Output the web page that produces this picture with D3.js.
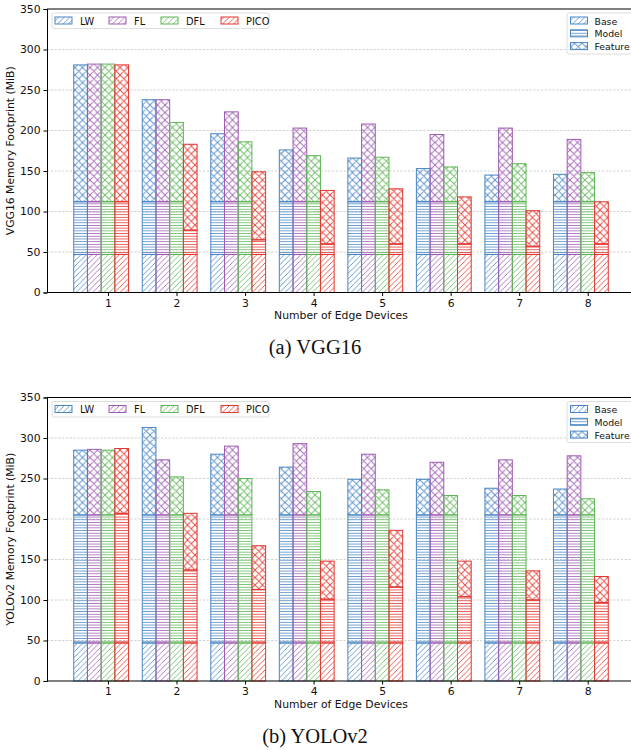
<!DOCTYPE html>
<html><head><meta charset="utf-8">
<script src="https://cdn.jsdelivr.net/npm/d3@7"></script>
<style>body{margin:0;background:#fff}svg{display:block}</style>
</head><body>
<script>
// ---- data ----
const devices = [1,2,3,4,5,6,7,8];
const methods = ["LW","FL","DFL","PICO"];
const components = ["Base","Model","Feature"];
const yTicks = [0,50,100,150,200,250,300,350];

// VGG16 (MiB)
const vggBase    = {LW:[47,47,47,47,47,47,47,47], FL:[47,47,47,47,47,47,47,47], DFL:[47,47,47,47,47,47,47,47], PICO:[47,47,47,47,47,47,47,47]};
const vggModel   = {LW:[65,65,65,65,65,65,65,65], FL:[65,65,65,65,65,65,65,65], DFL:[65,65,65,65,65,65,65,65], PICO:[65,30,18,13,13,13,10,13]};
const vggFeature = {LW:[169,126,84,64,54,41,33,34], FL:[170,126,111,91,96,83,91,77], DFL:[170,98,74,57,55,43,47,36], PICO:[169,106,84,66,68,58,44,52]};

// YOLOv2 (MiB)
const yoloBase    = {LW:[47,47,47,47,47,47,47,47], FL:[47,47,47,47,47,47,47,47], DFL:[47,47,47,47,47,47,47,47], PICO:[47,47,47,47,47,47,47,47]};
const yoloModel   = {LW:[158,158,158,158,158,158,158,158], FL:[158,158,158,158,158,158,158,158], DFL:[158,158,158,158,158,158,158,158], PICO:[160,90,66,54,69,57,53,50]};
const yoloFeature = {LW:[80,108,75,59,44,44,33,32], FL:[81,68,85,88,75,65,68,73], DFL:[80,47,45,29,31,24,24,20], PICO:[80,70,54,47,70,44,36,32]};

const colors = {LW:"#4a86c4", FL:"#9d5cb0", DFL:"#5fb557", PICO:"#e4352f"};
const hatchOf = {Base:"diag", Model:"horiz", Feature:"cross"};

// ---- svg ----
const W=631, H=750;
const svg = d3.select("body").append("svg").attr("width",W).attr("height",H);
const defs = svg.append("defs");

function makePatterns(){
  Object.entries(colors).forEach(([m,c])=>{
    let p = defs.append("pattern").attr("id",`diag-${m}`).attr("patternUnits","userSpaceOnUse")
      .attr("width",5.5).attr("height",5.5);
    p.append("path").attr("d","M0,5.5 L5.5,0 M-1,1 L1,-1 M4.5,6.5 L6.5,4.5")
      .attr("stroke",c).attr("stroke-width",0.9).attr("stroke-opacity",0.9);
    p = defs.append("pattern").attr("id",`horiz-${m}`).attr("patternUnits","userSpaceOnUse")
      .attr("width",6).attr("height",2.7);
    p.append("path").attr("d","M0,1.35 L6,1.35").attr("stroke",c).attr("stroke-width",0.9).attr("stroke-opacity",0.9);
    p = defs.append("pattern").attr("id",`cross-${m}`).attr("patternUnits","userSpaceOnUse")
      .attr("width",7.5).attr("height",7.5);
    p.append("path").attr("d","M0,0 L7.5,7.5 M7.5,0 L0,7.5 M-1,1 L1,-1 M6.5,8.5 L8.5,6.5 M-1,6.5 L1,8.5 M6.5,-1 L8.5,1")
      .attr("stroke",c).attr("stroke-width",0.95).attr("stroke-opacity",0.9);
  });
}
makePatterns();

function drawChart(opts){
  const {top, bottom, base, model, feature, ylabel, caption, capY, xlabY} = opts;
  const left=47, rightEdge=635;
  const x = d3.scaleLinear().domain([0.11,8.69]).range([left,rightEdge]);
  const y = d3.scaleLinear().domain([0,350]).range([bottom,top]);
  const bw = x(0.2)-x(0);
  const offs = {LW:-2, FL:-1, DFL:0, PICO:1};
  const g = svg.append("g");

  g.selectAll(".grid").data(yTicks.slice(1,-1)).enter().append("line")
    .attr("x1",left).attr("x2",W).attr("y1",d=>y(d)).attr("y2",d=>y(d))
    .attr("stroke","#c4c4c4").attr("stroke-width",0.8).attr("stroke-dasharray","2.2,1.6");

  const segs=[];
  methods.forEach(m=>{
    devices.forEach((d,i)=>{
      let y0=0;
      [["Base",base[m][i]],["Model",model[m][i]],["Feature",feature[m][i]]].forEach(([comp,v])=>{
        segs.push({m, d, comp, y0, y1:y0+v});
        y0+=v;
      });
    });
  });
  g.selectAll(".seg").data(segs).enter().append("rect")
    .attr("x",s=>x(s.d+offs[s.m]*0.2)-bw/2)
    .attr("width",bw)
    .attr("y",s=>y(s.y1))
    .attr("height",s=>y(s.y0)-y(s.y1))
    .attr("fill",s=>`url(#${hatchOf[s.comp]}-${s.m})`)
    .attr("stroke",s=>colors[s.m]).attr("stroke-width",1);

  const yAxis = d3.axisLeft(y).tickValues(yTicks).tickSize(3.5).tickPadding(3);
  const ya = g.append("g").attr("transform",`translate(${left},0)`).call(yAxis);
  const xAxis = d3.axisBottom(x).tickValues(devices).tickSize(3.5).tickPadding(3);
  const xa = g.append("g").attr("transform",`translate(0,${bottom})`).call(xAxis);
  [ya,xa].forEach(a=>{
    a.select(".domain").attr("stroke","#000").attr("stroke-width",1);
    a.selectAll("text").attr("font-family","DejaVu Sans").attr("font-size",10.8).attr("fill","#111");
    a.selectAll(".tick line").attr("stroke","#000");
  });
  xa.select(".domain").attr("d",`M${left},0H${W}`);
  g.append("line").attr("x1",left).attr("x2",W).attr("y1",top).attr("y2",top).attr("stroke","#000").attr("stroke-width",1);

  g.append("text").attr("x",(left+rightEdge)/2).attr("y",xlabY).attr("text-anchor","middle")
    .attr("font-family","DejaVu Sans").attr("font-size",10.8).attr("fill","#111").text("Number of Edge Devices");
  g.append("text").attr("transform",`translate(14,${(top+bottom)/2}) rotate(-90)`).attr("text-anchor","middle")
    .attr("font-family","DejaVu Sans").attr("font-size",10.8).attr("fill","#111").text(ylabel);
  g.append("text").attr("x",315).attr("y",capY).attr("text-anchor","middle")
    .attr("font-family","Liberation Serif").attr("font-size",20.5).attr("fill","#111").text(caption);

  const lg = g.append("g").attr("transform",`translate(52,${top+4})`);
  lg.append("rect").attr("width",217).attr("height",15.5).attr("rx",2)
    .attr("fill","#fff").attr("fill-opacity",0.85).attr("stroke","#d4d4d4").attr("stroke-width",0.8);
  const lx = [3,57,109,169];
  methods.forEach((m,i)=>{
    lg.append("rect").attr("x",lx[i]).attr("y",4).attr("width",17).attr("height",7)
      .attr("fill",`url(#diag-${m})`).attr("stroke",colors[m]).attr("stroke-width",1);
    lg.append("text").attr("x",lx[i]+25).attr("y",11.5).attr("font-family","DejaVu Sans")
      .attr("font-size",9.8).attr("fill","#111").text(m);
  });

  const cg = g.append("g").attr("transform",`translate(567,${top+4})`);
  cg.append("rect").attr("width",70).attr("height",41).attr("rx",2)
    .attr("fill","#fff").attr("fill-opacity",0.85).attr("stroke","#d4d4d4").attr("stroke-width",0.8);
  components.forEach((c,i)=>{
    cg.append("rect").attr("x",3.5).attr("y",4+i*12.8).attr("width",17).attr("height",7)
      .attr("fill",`url(#${hatchOf[c]}-LW)`).attr("stroke",colors.LW).attr("stroke-width",1);
    cg.append("text").attr("x",27.5).attr("y",11.5+i*12.8).attr("font-family","DejaVu Sans")
      .attr("font-size",9.3).attr("fill","#111").text(c);
  });
}

drawChart({top:9, bottom:292.5, base:vggBase, model:vggModel, feature:vggFeature,
  ylabel:"VGG16 Memory Footprint (MiB)", caption:"(a) VGG16", capY:354, xlabY:319});
drawChart({top:397.5, bottom:681, base:yoloBase, model:yoloModel, feature:yoloFeature,
  ylabel:"YOLOv2 Memory Footprint (MiB)", caption:"(b) YOLOv2", capY:743, xlabY:708});
</script>
</body></html>
